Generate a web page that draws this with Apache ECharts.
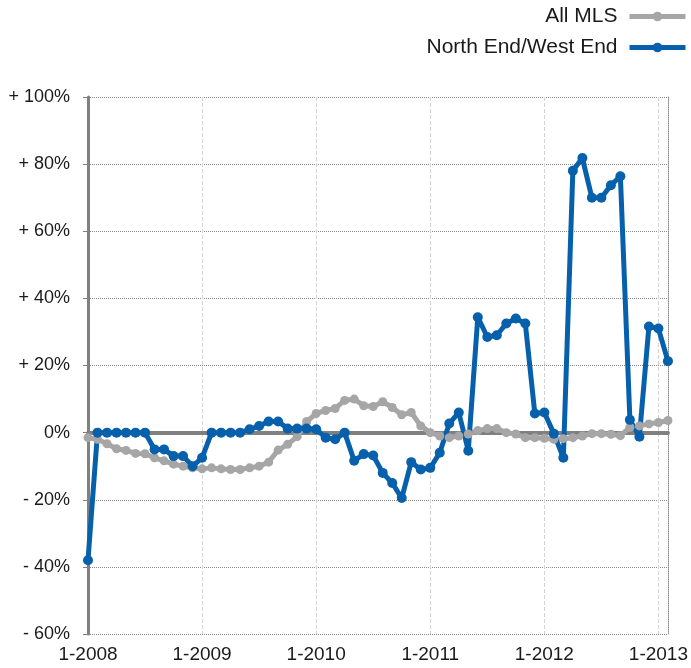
<!DOCTYPE html>
<html>
<head>
<meta charset="utf-8">
<style>
  html, body { margin: 0; padding: 0; background: #fff; }
  #chart { width: 691px; height: 668px; }
</style>
<script src="https://cdn.jsdelivr.net/npm/echarts@6/dist/echarts.min.js"></script>
</head>
<body>
<div id="chart"></div>
<script>
// months Jan 2008 .. Feb 2013
let startYear = 2008
let monthCount = 62
let months = []
for (let i = 0; i < monthCount; i++) {
  months.push((i % 12 + 1) + '-' + (startYear + Math.floor(i / 12)))
}

let seriesNames = ['All MLS', 'North End/West End']

// year-over-year change, %
let allMls = [
  -1.5, -2, -3.3, -4.8, -5.3, -6.2, -6.3, -7.5, -8.4, -9.4, -10, -10.5,
  -10.8, -10.5, -10.8, -11, -11, -10.5, -10, -8.8, -5.2, -3.5, -1.2, 3.3,
  5.7, 6.6, 7.2, 9.6, 10, 8, 7.8, 9.2, 7.5, 5.3, 6, 2,
  0, -1, -1.5, -1, -0.4, 0.6, 1.2, 1.2, 0, -0.4, -1.5, -1.5,
  -1.7, -2, -1.8, -1.5, -1, -0.3, -0.3, -0.5, -0.9, 1.6, 2, 2.6,
  3, 3.6
]
let northEndWestEnd = [
  -38, 0, 0, 0, 0, 0, 0, -5, -5, -7, -7, -10,
  -7.5, 0, 0, 0, 0, 1, 2, 3.3, 3.3, 1.2, 1.2, 1.2,
  1, -1.5, -2, 0, -8.4, -6.4, -6.8, -12, -15, -19.5, -8.8, -11,
  -10.5, -6, 2.7, 6, -5.4, 34.4, 28.5, 29, 32.5, 34, 32.5, 5.7,
  6, -0.3, -7.5, 78, 81.8, 70, 70, 73.7, 76.4, 3.8, -1.2, 31.6,
  31, 21.3
]

let yTicks = [-60, -40, -20, 0, 20, 40, 60, 80, 100]

let chart = echarts.init(document.getElementById('chart'))
let fontFamily = '"Liberation Sans", Arial, sans-serif'

function pctLabel(v) {
  if (v > 0) return '+ ' + v + '%'
  if (v < 0) return '- ' + (-v) + '%'
  return '0%'
}

chart.setOption({
  animation: false,
  textStyle: { fontFamily: fontFamily },
  grid: { left: 88, right: 21, top: 97, bottom: 34, containLabel: false },
  legend: {
    data: seriesNames,
    orient: 'vertical',
    right: 3,
    top: 6,
    padding: 0,
    align: 'right',
    itemWidth: 56,
    itemHeight: 12,
    itemGap: 10,
    lineStyle: { width: 5 },
    textStyle: { fontSize: 21, color: '#1a1a1a', fontFamily: fontFamily, padding: [0, 7, 0, 0] }
  },
  xAxis: [
    {
      type: 'category',
      data: months,
      boundaryGap: false,
      axisLine: { show: false, onZero: false },
      axisTick: { show: false },
      axisLabel: {
        interval: function (i) { return i % 12 === 0 },
        fontSize: 19,
        color: '#1a1a1a',
        margin: 11
      },
      splitLine: {
        show: true,
        interval: function (i) { return i % 12 === 0 && i > 0 },
        lineStyle: { color: '#d4d4d4', type: 'dashed', width: 1 }
      }
    },
    {
      // zero line
      type: 'category',
      data: months,
      boundaryGap: false,
      position: 'bottom',
      axisLine: { show: true, onZero: true, lineStyle: { color: '#808080', width: 4 } },
      axisTick: { show: false },
      axisLabel: { show: false },
      splitLine: { show: false }
    }
  ],
  yAxis: [
    {
      type: 'value',
      min: yTicks[0],
      max: yTicks[yTicks.length - 1],
      interval: 20,
      axisLine: { show: true, lineStyle: { color: '#808080', width: 3 } },
      axisTick: { show: true, length: 5, lineStyle: { color: '#808080', width: 1 } },
      axisLabel: {
        formatter: pctLabel,
        fontSize: 18,
        color: '#1a1a1a',
        margin: 18
      },
      splitLine: { show: true, lineStyle: { color: '#8a8a8a', type: 'dotted', width: 1 } }
    },
    {
      // dotted right border
      type: 'value',
      position: 'right',
      min: yTicks[0],
      max: yTicks[yTicks.length - 1],
      interval: 20,
      axisLine: { show: true, lineStyle: { color: '#8a8a8a', type: 'dotted', width: 1 } },
      axisTick: { show: false },
      axisLabel: { show: false },
      splitLine: { show: false }
    }
  ],
  series: [
    {
      name: seriesNames[0],
      type: 'line',
      data: allMls,
      symbol: 'circle',
      symbolSize: 9,
      showAllSymbol: true,
      color: '#a6a6a6',
      lineStyle: { width: 5, color: '#a6a6a6' },
      itemStyle: { color: '#a6a6a6' }
    },
    {
      name: seriesNames[1],
      type: 'line',
      data: northEndWestEnd,
      symbol: 'circle',
      symbolSize: 10,
      showAllSymbol: true,
      color: '#0760ab',
      lineStyle: { width: 5, color: '#0760ab' },
      itemStyle: { color: '#0760ab' }
    }
  ]
})
</script>
</body>
</html>
